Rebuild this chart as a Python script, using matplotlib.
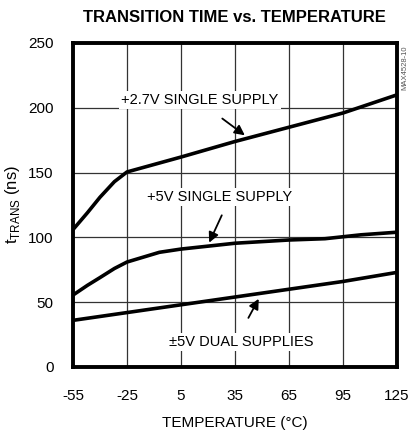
import matplotlib
matplotlib.use("Agg")
import matplotlib.pyplot as plt

# data
temp = [-55, -25, 5, 35, 65, 95, 125]
temp_27v = [-55, -47, -40, -32, -25, 5, 35, 65, 95, 125]
single_27v = [106, 119, 131, 143, 150.5, 162, 174, 185, 196, 210]
temp_5v = [-55, -47, -40, -32, -25, -7, 5, 35, 65, 85, 105, 125]
single_5v = [55.5, 63, 69, 76, 81, 88.5, 91, 95.5, 98, 99, 102, 104]
dual_5v = [36, 42, 48, 54, 60, 66, 73]

xticks = [-55, -25, 5, 35, 65, 95, 125]
xlabels = ["-55", "-25", "5", "35", "65", "95", "125"]
yticks = [0, 50, 100, 150, 200, 250]

family = "Liberation Sans"
plt.rcParams['font.family'] = [family, 'DejaVu Sans']
plt.rcParams['mathtext.fontset'] = 'custom'
plt.rcParams['mathtext.rm'] = family

fig = plt.figure(figsize=(4.12, 4.38), dpi=100)
ax = fig.add_axes([73 / 412, 1 - 367 / 438, 324 / 412, 324 / 438])

ax.plot(temp_27v, single_27v, color='black', lw=2.6, solid_capstyle='butt')
ax.plot(temp_5v, single_5v, color='black', lw=2.6, solid_capstyle='butt')
ax.plot(temp, dual_5v, color='black', lw=2.6, solid_capstyle='butt')

ax.set_xlim(-55, 125)
ax.set_ylim(0, 250)
ax.set_xticks(xticks, xlabels)
ax.set_yticks(yticks)
ax.grid(True, color='#333333', lw=0.9)
ax.tick_params(length=0, labelsize=11, pad=14)
ax.tick_params(axis='x', pad=16)
for s in ax.spines.values():
    s.set_linewidth(2.8)

ax.set_xlabel("TEMPERATURE (°C)", fontsize=11, labelpad=9)
ax.set_ylabel(r"t$_{\mathrm{TRANS}}$ (ns)", fontsize=12, labelpad=4)
fig.text(234 / 412, 1 - 17 / 438, "TRANSITION TIME vs. TEMPERATURE",
         ha='center', va='center', fontsize=12, fontweight='bold')
fig.text(405 / 412, 1 - 68 / 438, "MAX4528-10", rotation=90,
         ha='center', va='center', fontsize=5.5, color='#555555')

box = dict(facecolor='white', edgecolor='none', pad=1.5)
arrow = dict(arrowstyle='-|>', color='black', lw=1.3, mutation_scale=15)
ax.text(15.5, 206, "+2.7V SINGLE SUPPLY", ha='center', va='center',
        fontsize=10.5, bbox=box)
ax.annotate("", xy=(41.7, 177.5), xytext=(26.7, 193), arrowprops=arrow)
ax.text(26.7, 131, "+5V SINGLE SUPPLY", ha='center', va='center',
        fontsize=10.5, bbox=box)
ax.annotate("", xy=(20, 94), xytext=(28.3, 119), arrowprops=arrow)
ax.text(38.3, 19, "±5V DUAL SUPPLIES", ha='center', va='center',
        fontsize=10.5, bbox=box)
ax.annotate("", xy=(48.9, 54.5), xytext=(41.7, 36), arrowprops=arrow)

fig.savefig("out.png", dpi=100)
